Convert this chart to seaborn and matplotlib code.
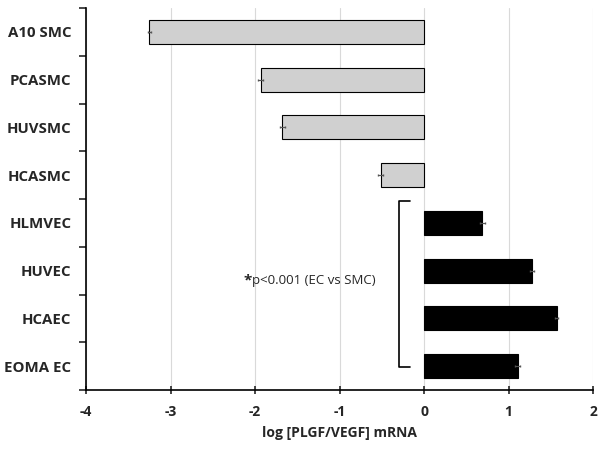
import numpy as np
import pandas as pd
import seaborn as sns
import matplotlib.pyplot as plt

# cell types and log ratio of PLGF/VEGF mRNA
cells = ['A10 SMC', 'PCASMC', 'HUVSMC', 'HCASMC', 'HLMVEC', 'HUVEC', 'HCAEC', 'EOMA EC']
values = [-3.25, -1.93, -1.68, -0.51, 0.69, 1.28, 1.57, 1.11]
errors = [0.02, 0.03, 0.03, 0.03, 0.03, 0.02, 0.02, 0.03]
groups = ['SMC', 'SMC', 'SMC', 'SMC', 'EC', 'EC', 'EC', 'EC']

df = pd.DataFrame({'cell': cells, 'value': values, 'group': groups})

sns.set_style('white')
plt.rcParams['font.family'] = ['Open Sans', 'DejaVu Sans']

fig = plt.figure(figsize=(6.04, 4.49), dpi=100)
ax = fig.add_axes([0.1424, 0.1314, 0.8394, 0.8506])

sns.barplot(data=df, x='value', y='cell', hue='group', orient='h',
            palette={'SMC': '#d0d0d0', 'EC': 'black'}, width=0.5,
            edgecolor='black', linewidth=0.8, legend=False, dodge=False, ax=ax)
ax.errorbar(values, np.arange(len(cells)), xerr=errors, fmt='none',
            ecolor='#555555', elinewidth=0.8, capsize=1)

ax.set_xlim(-4, 2)
ax.set_ylim(7.5, -0.5)
ax.set_xticks(range(-4, 3))
ax.set_xticklabels([str(t) for t in range(-4, 3)], fontweight='bold', fontsize=10)
ax.set_yticks(range(len(cells)))
ax.set_yticklabels(cells, fontweight='bold', fontsize=10.8)
ax.set_yticks(np.arange(-0.5, 8, 1), minor=True)
ax.tick_params(axis='y', which='major', length=0, pad=10.5)
ax.tick_params(axis='y', which='minor', length=5, width=1.2, direction='out', left=True)
ax.tick_params(axis='x', length=6, width=1.2, direction='inout', bottom=True, pad=8)
ax.grid(axis='x', color='#d9d9d9', linewidth=0.8)
ax.set_axisbelow(True)
for side in ['top', 'right']:
    ax.spines[side].set_visible(False)
for side in ['left', 'bottom']:
    ax.spines[side].set_color('black')
    ax.spines[side].set_linewidth(1.2)
ax.set_xlabel('log [PLGF/VEGF] mRNA', fontweight='bold', fontsize=10, labelpad=5)
ax.set_ylabel('')

# bracket around EC bars
bx, bt = -0.30, -0.17
ax.plot([bt, bx, bx, bt], [3.54, 3.54, 7.02, 7.02], color='black', linewidth=1.2)
ax.text(-2.14, 5.2, '*', fontweight='bold', fontsize=11, ha='left', va='center')
ax.text(-2.04, 5.2, 'p<0.001 (EC vs SMC)', fontsize=9.5, ha='left', va='center')

fig.savefig('out.png', dpi=100)
